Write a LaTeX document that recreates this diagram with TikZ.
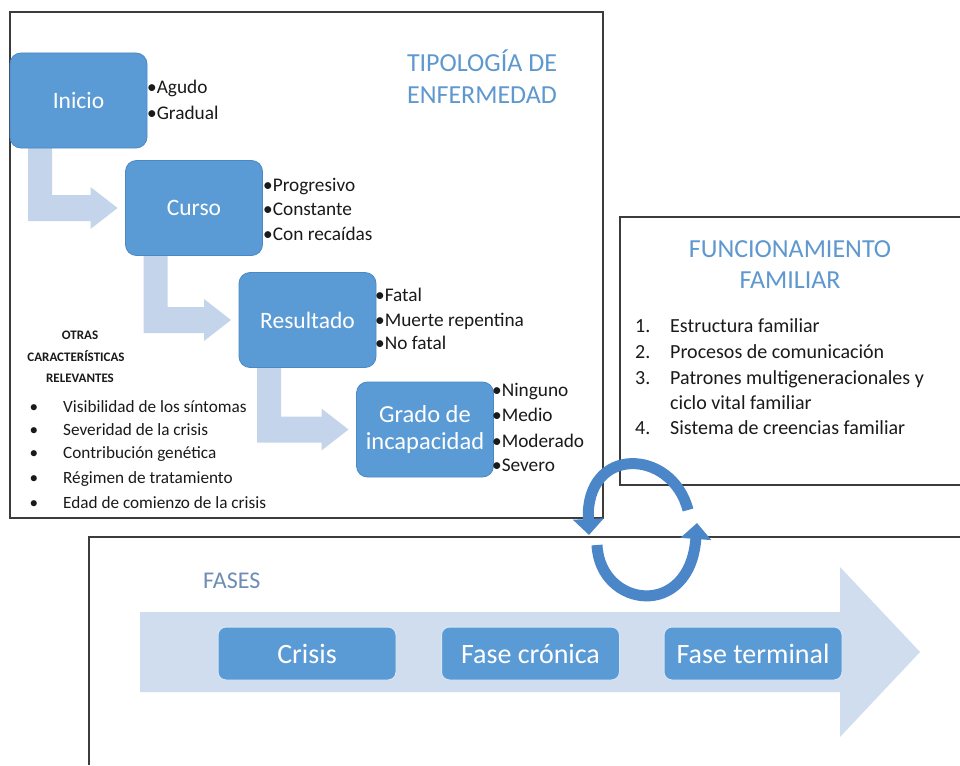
\documentclass[tikz,border=0pt]{standalone}
\usepackage{fontspec}
\setmainfont{Carlito}
\usetikzlibrary{arrows.meta,calc}
\pgfdeclarelayer{behind}
\pgfsetlayers{behind,main}
\definecolor{boxblue}{HTML}{5B9BD5}
\definecolor{boxedge}{HTML}{4A88C6}
\definecolor{lightarr}{HTML}{C4D5EB}
\definecolor{bigarr}{HTML}{D0DDEF}
\definecolor{titleblue}{HTML}{5E98CE}
\definecolor{fasesblue}{HTML}{6E8DB5}
\definecolor{framegray}{HTML}{3C3C3C}
\definecolor{cycblue}{HTML}{4A86C8}
\definecolor{txt}{HTML}{1A1A1A}
\tikzset{
  frameline/.style={draw=framegray, line width=1.2pt},
  stagebox/.style={fill=boxblue, draw=boxedge, line width=0.8pt, rounded corners=11pt,
    minimum width=137pt, minimum height=95pt, inner sep=0pt, outer sep=0pt,
    text=white, font=\fontsize{23.5}{27}\selectfont, align=center},
  bul/.style={anchor=base west, inner sep=0pt, text=txt, font=\fontsize{19.3}{23}\selectfont},
  ttl/.style={anchor=base, inner sep=0pt, text=titleblue, font=\fontsize{26}{30}\selectfont},
  numitem/.style={anchor=base west, inner sep=0pt, text=txt, font=\fontsize{20}{24}\selectfont},
  otras/.style={anchor=base, inner sep=0pt, text=txt, font=\fontsize{13}{16}\selectfont\bfseries},
  lst/.style={anchor=base west, inner sep=0pt, text=txt, font=\fontsize{17.2}{20}\selectfont},
  lstdot/.style={anchor=base, inner sep=0pt, text=txt, font=\fontsize{17.2}{20}\selectfont},
  phasebox/.style={fill=boxblue, draw=white!75!boxblue, line width=1pt, rounded corners=8pt,
    minimum width=178pt, minimum height=53pt, inner sep=0pt, outer sep=0pt,
    text=white, font=\fontsize{28}{32}\selectfont},
  lightarrow/.style={fill=lightarr, draw=none},
  cyc/.style={draw=cycblue, line width=11pt, -{Triangle[width=30pt,length=16pt]}}
}
\newcommand\bentarr[2]{%
  \fill[lightarrow] ($(#1.south west)+(18,-3)$) -- ($(#1.south west)+(42,-3)$)
    |- ($(#2.west)+(-35,-13)$) -- ($(#2.west)+(-35,-21)$) -- ($(#2.west)+(-8,0)$)
    -- ($(#2.west)+(-35,21)$) -- ($(#2.west)+(-35,13)$) -| cycle;}
\begin{document}
\begin{tikzpicture}[x=1pt,y=-1pt]
\useasboundingbox (0,0) rectangle (960,765);
\begin{pgfonlayer}{behind}
\fill[white] (0,0) rectangle (960,765);
\end{pgfonlayer}

% frames
\draw[frameline] (10,12) rectangle (603,518);
\draw[frameline] (960,217) -- (620,217) -- (620,485) -- (960,485);
\draw[frameline] (960,537) -- (89,537) -- (89,765);

% stage boxes
\node[stagebox] (inicio) at (78.5,100.5) {Inicio};
\node[stagebox] (curso) at (194,208) {Curso};
\node[stagebox] (resultado) at (307.5,320) {Resultado};
\node[stagebox, font=\fontsize{24.5}{27}\selectfont] (grado) at (425,429.5) {Grado de\\incapacidad};

% bent arrows, behind the boxes
\begin{pgfonlayer}{behind}
\bentarr{inicio}{curso}
\bentarr{curso}{resultado}
\bentarr{resultado}{grado}
\end{pgfonlayer}

% bullets
\node[bul] (b1) at (147,94) {•Agudo};
\node[bul] (b2) at (147,119) {•Gradual};
\node[bul] (b3) at (263,191) {•Progresivo};
\node[bul] (b4) at (263,215) {•Constante};
\node[bul] (b5) at (263,240) {•Con recaídas};
\node[bul] (b6) at (375,301) {•Fatal};
\node[bul] (b7) at (375,326) {•Muerte repentina};
\node[bul] (b8) at (375,349) {•No fatal};
\node[bul] (b9) at (492,396) {•Ninguno};
\node[bul] (b10) at (492,421) {•Medio};
\node[bul] (b11) at (492,447) {•Moderado};
\node[bul] (b12) at (492,471) {•Severo};

% title top
\node[ttl] (t1) at (482,72) {TIPOLOGÍA DE};
\node[ttl] (t2) at (482,103) {ENFERMEDAD};

% otras
\node[otras] (o1) at (80,339) {OTRAS};
\node[otras] (o2) at (76,361) {CARACTERÍSTICAS};
\node[otras] (o3) at (80,382) {RELEVANTES};
\foreach \yy/\tt [count=\i] in {412/Visibilidad de los síntomas, 435/Severidad de la crisis, 458/Contribución genética, 483/Régimen de tratamiento, 508/Edad de comienzo de la crisis}{
  \node[lstdot] (d\i) at (34,\yy) {•};
  \node[lst] (l\i) at (63,\yy) {\tt};
}

% right box
\node[ttl] (f1) at (790,257) {FUNCIONAMIENTO};
\node[ttl] (f2) at (790,288) {FAMILIAR};
\node[numitem] (n1) at (635,332) {1.};
\node[numitem] (m1) at (670,332) {Estructura familiar};
\node[numitem] (n2) at (635,358) {2.};
\node[numitem] (m2) at (670,358) {Procesos de comunicación};
\node[numitem] (n3) at (635,384) {3.};
\node[numitem] (m3) at (670,384) {Patrones multigeneracionales y};
\node[numitem] (m3b) at (670,409) {ciclo vital familiar};
\node[numitem] (n4) at (635,434) {4.};
\node[numitem] (m4) at (670,434) {Sistema de creencias familiar};

% bottom
\fill[bigarr] (140,612) -- (840,612) -- (840,567) -- (920,652) -- (840,737) -- (840,692) -- (140,692) -- cycle;
\node[anchor=base west, inner sep=0pt, text=fasesblue, font=\fontsize{24}{28}\selectfont] (fases) at (203,588) {FASES};
\node[phasebox] (crisis) at (307,653.5) {Crisis};
\node[phasebox] (cronica) at (530.5,653.5) {Fase crónica};
\node[phasebox] (terminal) at (753,653.5) {Fase terminal};

% cycle arrows
\coordinate (ua) at (688,510);
\coordinate (ub) at (589,535);
\coordinate (la) at (597,545);
\coordinate (lb) at (697,523);
\draw[cyc] (ua) .. controls (672,448) and (585,445) .. (ub);
\draw[cyc] (la) .. controls (600,608) and (690,620) .. (lb);
\end{tikzpicture}
\end{document}
